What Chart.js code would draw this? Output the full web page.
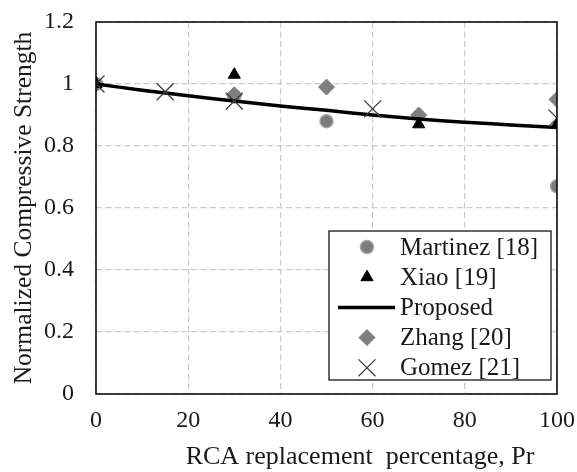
<!DOCTYPE html>
<html>
<head>
<meta charset="utf-8">
<script src="https://cdn.jsdelivr.net/npm/chart.js@4.4.0/dist/chart.umd.min.js"></script>
<style>
  body { margin: 0; background: #fff; }
  canvas { display: block; }
</style>
</head>
<body>
<canvas id="chart" width="577" height="472"></canvas>
<script>
// data
var martinezX = [0, 30, 50, 100];
var martinezY = [1.0, 0.96, 0.88, 0.67];
var xiaoX = [0, 30, 70, 100];
var xiaoY = [1.0, 1.03, 0.87, 0.87];
var zhangX = [0, 30, 50, 70, 100];
var zhangY = [1.0, 0.965, 0.99, 0.90, 0.95];
var gomezX = [0, 15, 30, 60, 100];
var gomezY = [1.0, 0.975, 0.945, 0.92, 0.89];
var proposedX = [0, 10, 20, 30, 40, 50, 60, 70, 80, 90, 100];
var proposedY = [1.0, 0.98, 0.962, 0.945, 0.929, 0.915, 0.90, 0.887, 0.877, 0.868, 0.86];
var xTicks = [0, 20, 40, 60, 80, 100];
var yTicks = [0, 0.2, 0.4, 0.6, 0.8, 1, 1.2];
var xTitle = 'RCA replacement  percentage, Pr';
var yTitle = 'Normalized Compressive Strength';

var FONT = "'Liberation Serif', 'Times New Roman', serif";
var TEXT = '#1a1a1a';

function pts(xs, ys) {
    return xs.map(function(x, i) { return {x: x, y: ys[i]}; });
}

// black border round the plot area
var frame = {
    id: 'frame',
    afterDatasetsDraw: function(chart) {
        var a = chart.chartArea, ctx = chart.ctx;
        ctx.save();
        ctx.strokeStyle = '#000';
        ctx.lineWidth = 1.5;
        ctx.strokeRect(a.left, a.top, a.right - a.left, a.bottom - a.top);
        ctx.restore();
    }
};

// x title sits a bit right of centre in the original
var xTitlePlugin = {
    id: 'xTitlePlugin',
    afterDraw: function(chart) {
        var ctx = chart.ctx;
        ctx.save();
        ctx.fillStyle = TEXT;
        ctx.font = '26px ' + FONT;
        ctx.textAlign = 'center';
        ctx.textBaseline = 'middle';
        ctx.fillText(xTitle, 360, 457);
        ctx.restore();
    }
};

// legend box inside the plot, lower right
var boxLegend = {
    id: 'boxLegend',
    afterDraw: function(chart) {
        var ctx = chart.ctx;
        var left = 329, top = 231, right = 551, bottom = 380;
        var rowH = 30.2, firstRow = 247, symX = 367, textX = 400;
        ctx.save();
        ctx.fillStyle = '#fff';
        ctx.fillRect(left, top, right - left, bottom - top);
        ctx.strokeStyle = '#000';
        ctx.lineWidth = 1.2;
        ctx.strokeRect(left, top, right - left, bottom - top);
        chart.data.datasets.forEach(function(ds, i) {
            var y = firstRow + i * rowH;
            if (ds.showLine) {
                ctx.strokeStyle = ds.borderColor;
                ctx.lineWidth = ds.borderWidth;
                ctx.beginPath();
                ctx.moveTo(338, y);
                ctx.lineTo(395, y);
                ctx.stroke();
            } else {
                ctx.fillStyle = ds.backgroundColor;
                ctx.strokeStyle = ds.borderColor;
                ctx.lineWidth = ds.borderWidth;
                Chart.helpers.drawPoint(ctx, {
                    pointStyle: ds.pointStyle,
                    radius: ds.pointRadius,
                    rotation: 0,
                    borderWidth: ds.borderWidth
                }, symX, y);
            }
            ctx.fillStyle = TEXT;
            ctx.font = '25px ' + FONT;
            ctx.textBaseline = 'middle';
            ctx.textAlign = 'left';
            ctx.fillText(ds.label, textX, y + 1);
        });
        ctx.restore();
    }
};

var ctx = document.getElementById('chart');
var chart = new Chart(ctx, {
    type: 'scatter',
    data: {
        datasets: [{
            label: 'Martinez [18]',
            data: pts(martinezX, martinezY),
            pointStyle: 'circle',
            pointRadius: 6.5,
            backgroundColor: '#7b7b7b',
            borderColor: '#a6a6a6',
            borderWidth: 1.5,
            order: 5
        }, {
            label: 'Xiao [19]',
            data: pts(xiaoX, xiaoY),
            pointStyle: 'triangle',
            pointRadius: 7,
            backgroundColor: '#000',
            borderColor: '#000',
            borderWidth: 1,
            order: 2
        }, {
            label: 'Proposed',
            data: pts(proposedX, proposedY),
            showLine: true,
            pointRadius: 0,
            borderColor: '#000',
            backgroundColor: '#000',
            borderWidth: 3.5,
            tension: 0.3,
            order: 3
        }, {
            label: 'Zhang [20]',
            data: pts(zhangX, zhangY),
            pointStyle: 'rectRot',
            pointRadius: 8,
            backgroundColor: '#7f7f7f',
            borderColor: '#7f7f7f',
            borderWidth: 1,
            order: 4
        }, {
            label: 'Gomez [21]',
            data: pts(gomezX, gomezY),
            pointStyle: 'crossRot',
            pointRadius: 12,
            backgroundColor: '#3a3a3a',
            borderColor: '#3a3a3a',
            borderWidth: 1.2,
            order: 1
        }]
    },
    options: {
        responsive: false,
        animation: false,
        layout: { padding: { top: 22, right: 20, left: 0, bottom: 0 } },
        plugins: {
            legend: { display: false },
            tooltip: { enabled: false }
        },
        scales: {
            x: {
                type: 'linear',
                min: 0,
                max: 100,
                afterBuildTicks: function(scale) {
                    scale.ticks = xTicks.map(function(v) { return {value: v}; });
                },
                afterFit: function(scale) {
                    scale.height = 78;
                    scale.paddingLeft = 0;
                    scale.paddingRight = 0;
                },
                ticks: {
                    color: TEXT,
                    font: { family: FONT, size: 24 },
                    padding: 12,
                    maxRotation: 0
                },
                grid: {
                    color: '#cccccc',
                    lineWidth: 1.2,
                    drawTicks: false
                },
                border: { display: false, dash: [6, 3.5] },
                title: { display: false, text: xTitle }
            },
            y: {
                type: 'linear',
                min: 0,
                max: 1.2,
                afterBuildTicks: function(scale) {
                    scale.ticks = yTicks.map(function(v) { return {value: v}; });
                },
                afterFit: function(scale) {
                    scale.width = 96;
                    scale.paddingTop = 0;
                    scale.paddingBottom = 0;
                },
                ticks: {
                    color: TEXT,
                    font: { family: FONT, size: 24 },
                    padding: 22,
                    callback: function(v) { return String(Math.round(v * 10) / 10); }
                },
                grid: {
                    color: '#cccccc',
                    lineWidth: 1.2,
                    drawTicks: false
                },
                border: { display: false, dash: [6, 3.5] },
                title: {
                    display: true,
                    text: yTitle,
                    color: TEXT,
                    font: { family: FONT, size: 25.5 },
                    padding: { top: 9, bottom: 0 }
                }
            }
        }
    },
    plugins: [frame, xTitlePlugin, boxLegend]
});
</script>
</body>
</html>
